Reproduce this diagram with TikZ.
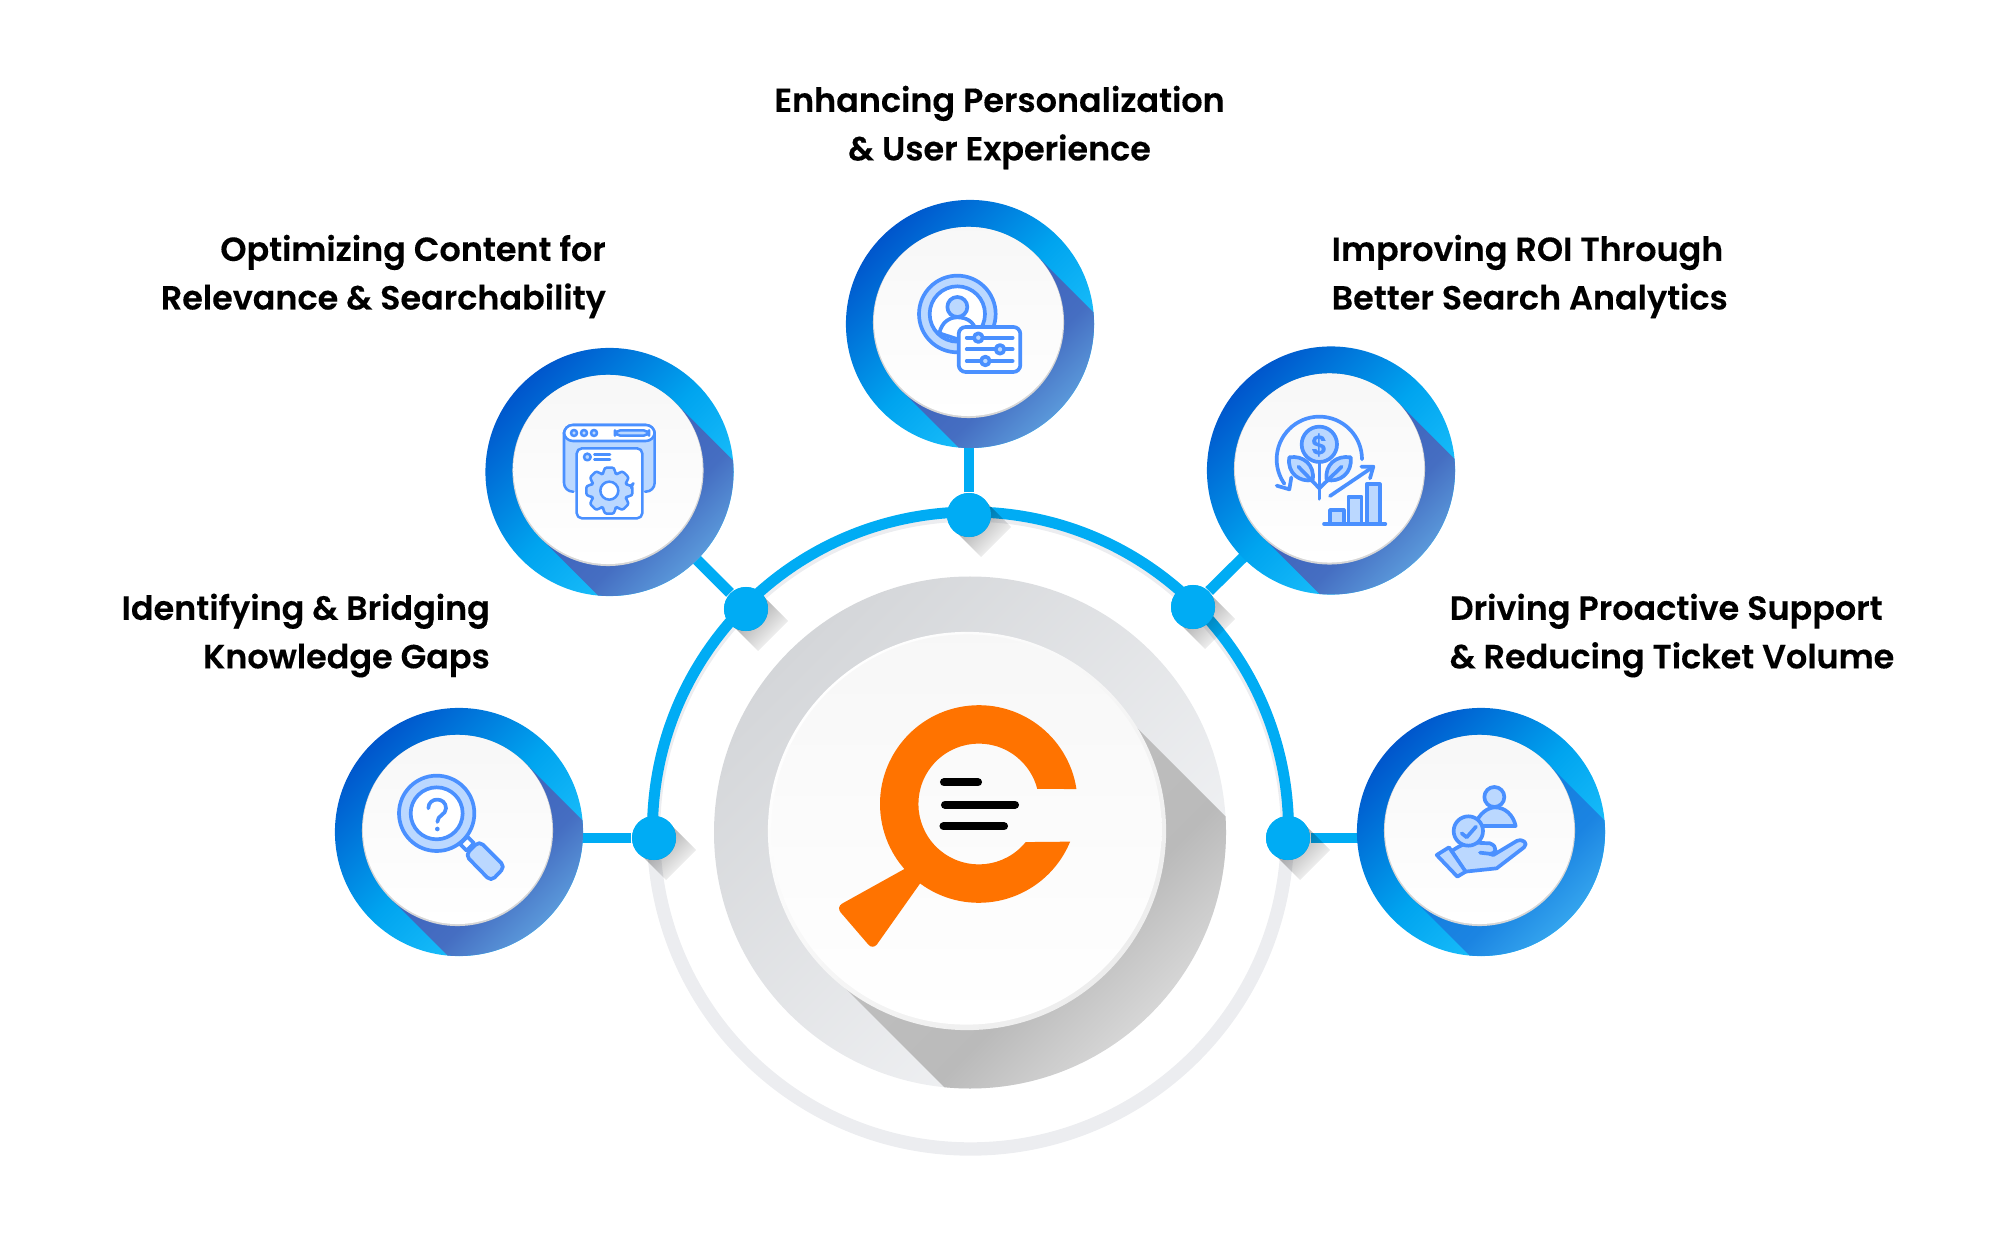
\documentclass[tikz,border=0pt]{standalone}
\usepackage{fontspec}
\usepackage{xcolor}
\usepackage{tikz}
\setmainfont{Poppins}[BoldFont=Poppins SemiBold, BoldFeatures={FakeBold=0.25}]

\definecolor{arcblue}{HTML}{00ACF4}
\definecolor{ringgray}{HTML}{ECEDF0}
\definecolor{platedark}{HTML}{D4D6D9}
\definecolor{platelight}{HTML}{F4F5F7}
\definecolor{ringdark}{HTML}{0056CC}
\definecolor{ringmid}{HTML}{00A4EF}
\definecolor{ringlight}{HTML}{24C8FF}
\definecolor{shadeA}{HTML}{3B5CB8}
\definecolor{shadeM}{HTML}{456EC2}
\definecolor{shadeB}{HTML}{72C8F5}
\definecolor{shadeC}{HTML}{0F78DC}
\definecolor{shadeN}{HTML}{1B84E2}
\definecolor{shadeD}{HTML}{50C8FA}
\definecolor{iconline}{HTML}{4A90FF}
\definecolor{iconfill}{HTML}{BBD8FF}
\definecolor{logoorange}{HTML}{FF7300}

\tikzset{
  heading/.style={font=\bfseries\fontsize{9.5}{13.8}\selectfont, text=black, inner sep=0pt},
  link/.style={draw=arcblue, line width=3.1pt},
  hubdot/.style={circle, fill=arcblue, minimum size=0.44cm, inner sep=0pt},
  dotshade/.style={left color=black!42, right color=white, shading angle=45, blend mode=multiply},
  badgering/.style={circle, minimum size=2.48cm, inner sep=0pt, left color=ringdark, right color=ringlight, middle color=ringmid, shading angle=45},
  badgerim/.style={circle, fill=black!16, minimum size=1.91cm, inner sep=0pt},
  badgedisk/.style={circle, top color=black!3, bottom color=white, minimum size=1.89cm, inner sep=0pt},
  icon/.style={draw=iconline, line width=1.05pt, line join=round, line cap=round},
  iconl/.style={icon, fill=iconfill},
  iconw/.style={icon, fill=white}
}

\begin{document}
\begin{tikzpicture}[x=0.01cm, y=-0.01cm]
\useasboundingbox (0, 0) rectangle (2000, 1234);

% outer ring
\draw[draw=ringgray, line width=3.8pt] (970.5, 832) circle[radius=317];
\draw[link] (652.5, 838) -- (652.5, 830) arc[start angle=180, end angle=360, radius=318] -- (1288.5, 838);

% gray plate with its long shadow
\shade[left color=platedark, right color=platelight, shading angle=45] (970, 832.5) circle[radius=256];
\begin{scope}
\clip (970, 832.5) circle[radius=256];
\shade[left color=black!24, right color=white, middle color=black!27, shading angle=45]
  (1106, 697) -- (1326, 917) -- (1049, 1192) -- (829, 972) -- cycle;
\end{scope}

% hub
\node[circle, minimum size=3.98cm, inner sep=0pt, left color=white, right color=black!7, shading angle=45] (HubRim) at (967, 831) {};
\node[circle, minimum size=3.9cm, inner sep=0pt, top color=black!3, bottom color=white] (Hub) at (966.5, 829.5) {};

% dots
\foreach \Dname/\Dx/\Dy in {DotL/654/838, DotUL/746/609, DotT/969/515, DotUR/1193/607, DotR/1288/838}
  \node[hubdot] (\Dname) at (\Dx, \Dy) {};

% badges
\foreach \Bname/\Bx/\By in {BadgeL/459/832, BadgeUL/609.5/472, BadgeT/970/324, BadgeUR/1331/470.5, BadgeR/1481/832} {
  \coordinate (\Bname C) at (\Bx, \By);
}

% links
\draw[link] (DotL) -- (DotL -| BadgeLC);
\draw[link] (DotUL) -- (BadgeULC);
\draw[link] (DotT) -- (DotT |- BadgeTC);
\draw[link] (DotUR) -- (BadgeURC);
\draw[link] (DotR) -- (DotR -| BadgeRC);

% dot shadows, then dots again on top
\foreach \Dname/\Dx/\Dy in {DotL/654/838, DotUL/746/609, DotT/969/515, DotUR/1193/607, DotR/1288/838} {
  \shade[dotshade] (\Dx + 15, \Dy - 15) -- (\Dx + 42, \Dy + 12) -- (\Dx + 12, \Dy + 42) -- (\Dx - 15, \Dy + 15) -- cycle;
  \node[hubdot] at (\Dx, \Dy) {};
}

% badge discs
\foreach \Bname/\Bx/\By/\Sa/\Sm/\Sb in {BadgeL/459/832/shadeA/shadeM/shadeB, BadgeUL/609.5/472/shadeA/shadeM/shadeB, BadgeT/970/324/shadeA/shadeM/shadeB, BadgeUR/1331/470.5/shadeA/shadeM/shadeB, BadgeR/1481/832/shadeC/shadeN/shadeD} {
  \node[badgering] (\Bname) at (\Bx, \By) {};
  \begin{scope}
  \clip (\Bx, \By) circle[radius=124];
  \shade[left color=\Sa, right color=\Sb, middle color=\Sm, shading angle=45]
    (\Bx + 66, \By - 69) -- (\Bx + 166, \By + 31) -- (\Bx + 31, \By + 166) -- (\Bx - 69, \By + 66) -- cycle;
  \end{scope}
  \node[badgerim] at (\Bx - 1.5, \By - 1.5) {};
  \node[badgedisk] at (\Bx - 1.5, \By - 2.5) {};
}

% logo
\begin{scope}[shift={(978.8, 804)}]
\fill[logoorange] (-8.7:98.8) arc[start angle=-8.7, end angle=-337.6, radius=98.8]
  -- (-320.9:60.4) arc[start angle=-320.9, end angle=-14.5, radius=60.4] -- cycle;
\end{scope}
\fill[logoorange, rounded corners=2pt] (917, 862) -- (836, 907) -- (873, 950) -- (931, 868) -- cycle;
\draw[black, line width=2.3pt, line cap=round] (944, 782.3) -- (978, 782.3);
\draw[black, line width=2.3pt, line cap=round] (945, 804.7) -- (1015, 804.7);
\draw[black, line width=2.3pt, line cap=round] (943.5, 826.3) -- (1004, 826.3);

% icon: magnifier
\begin{scope}[shift={(320, 690)}, scale=1/3]
\draw[iconl] (350, 370) circle[radius=113];
\draw[iconw] (350, 370) circle[radius=78];
\draw[icon] (325, 355) .. controls (325, 320) and (378, 320) .. (378, 355) .. controls (378, 375) and (352, 375) .. (352, 396);
\fill[iconline] (352, 417) circle[radius=7];
\draw[iconw] (420, 462) -- (442, 440) -- (462, 460) -- (440, 482) -- cycle;
\draw[iconl, rounded corners=1.5pt] (478, 453) -- (555, 530) -- (513, 574) -- (436, 495) -- cycle;
\end{scope}

% icon: page with gear
\begin{scope}[shift={(480, 340)}, scale=1/3, icon/.append style={line width=0.72pt}]
\draw[iconl, rounded corners=2.5pt] (280, 455) -- (252, 455) -- (252, 255) -- (524, 255) -- (524, 455) -- (495, 455);
\draw[iconw, rounded corners=2.5pt] (252, 303) -- (252, 255) -- (524, 255) -- (524, 303) -- cycle;
\foreach \Hx in {282, 312, 342}
  \draw[iconl] (\Hx, 279) circle[radius=9];
\draw[iconl, rounded corners=1.5pt] (405, 271) rectangle (507, 287);
\draw[iconw, rounded corners=1.5pt] (290, 325) rectangle (487, 535);
\draw[iconl] (322, 351) circle[radius=10];
\draw[icon] (343, 344) -- (390, 344);
\draw[icon] (343, 358) -- (390, 358);
\begin{scope}[shift={(388, 452)}]
\draw[iconl, rounded corners=0.8pt] (-12:70) \foreach \Ga in {0, 45, ..., 315} { -- (\Ga - 13:71) -- (\Ga + 13:71) -- (\Ga + 17:55) -- (\Ga + 28:55) } -- cycle;
\draw[iconw] (0, 0) circle[radius=27];
\end{scope}
\end{scope}

% icon: profile with sliders
\begin{scope}[shift={(840, 190)}, scale=1/3]
\draw[iconl] (352, 372) circle[radius=115];
\draw[iconw] (352, 372) circle[radius=83];
\draw[iconw] (298, 430) .. controls (305, 395) and (330, 382) .. (352, 382) .. controls (380, 382) and (400, 395) .. (408, 420) -- (360, 450) -- cycle;
\draw[iconl] (352, 351) circle[radius=30];
\draw[iconw, rounded corners=2pt] (356, 411) rectangle (541, 546);
\draw[icon] (380, 443) -- (518, 443);
\draw[icon] (380, 478) -- (518, 478);
\draw[icon] (380, 513) -- (518, 513);
\draw[iconl] (415, 443) circle[radius=13];
\draw[iconl] (480, 478) circle[radius=13];
\draw[iconl] (436, 513) circle[radius=13];
\end{scope}

% icon: growth
\begin{scope}[shift={(1200, 340)}, scale=1/3]
\draw[icon] (486, 358) arc[start angle=0, end angle=-215, radius=128];
\draw[icon] (230, 437) -- (268, 448) -- (274, 412);
\draw[icon] (358, 365) -- (358, 476);
\draw[iconl] (358, 313) circle[radius=53];
\node[text=iconline, font=\bfseries\fontsize{7.5}{8}\selectfont, inner sep=0pt] (Coin) at (358, 315) {\$};
\draw[iconl] (338, 420) .. controls (300, 428) and (260, 400) .. (268, 352) .. controls (310, 345) and (345, 375) .. (338, 420) -- cycle;
\draw[iconl] (380, 420) .. controls (418, 428) and (458, 400) .. (452, 352) .. controls (408, 345) and (373, 375) .. (380, 420) -- cycle;
\draw[icon] (295, 380) -- (358, 445);
\draw[icon] (425, 380) -- (358, 445);
\draw[icon] (390, 468) -- (520, 380);
\draw[icon] (484, 380) -- (520, 380) -- (510, 415);
\draw[iconl] (390, 552) rectangle (431, 510);
\draw[iconl] (445, 552) rectangle (484, 470);
\draw[iconl] (500, 552) rectangle (539, 433);
\draw[icon] (372, 552) -- (556, 552);
\end{scope}

% icon: hand
\begin{scope}[shift={(1350, 700)}, scale=1/3]
\draw[iconl] (375, 378) .. controls (385, 340) and (415, 322) .. (435, 322) .. controls (465, 322) and (490, 345) .. (497, 378) -- cycle;
\draw[iconl] (433, 291) circle[radius=30];
\draw[iconl] (305, 453) .. controls (325, 440) and (350, 425) .. (375, 428) -- (420, 430) .. controls (445, 440) and (438, 462) .. (420, 462) -- (430, 465) -- (500, 423) .. controls (520, 415) and (535, 430) .. (522, 442) -- (440, 505) -- (345, 515) -- cycle;
\draw[icon] (390, 458) -- (425, 462);
\draw[iconl] (260, 465) -- (297, 442) -- (347, 515) -- (322, 530) -- cycle;
\draw[iconl] (355, 393) circle[radius=44];
\draw[icon] (335, 400) -- (350, 412) -- (378, 380);
\end{scope}

% headings
\node[heading, align=center] (TxtT) at (999.5, 127.5) {\textbf{Enhancing Personalization}\\\textbf{\& User Experience}};
\node[heading, align=right, anchor=east] (TxtUL) at (606.5, 276.5) {\textbf{Optimizing Content for}\\\textbf{Relevance \& Searchability}};
\node[heading, align=right, anchor=east] (TxtL) at (490.5, 635.5) {\textbf{Identifying \& Bridging}\\\textbf{Knowledge Gaps}};
\node[heading, align=left, anchor=west] (TxtUR) at (1331, 276.5) {\textbf{Improving ROI Through}\\\textbf{Better Search Analytics}};
\node[heading, align=left, anchor=west] (TxtR) at (1449, 635.5) {\textbf{Driving Proactive Support}\\\textbf{\& Reducing Ticket Volume}};
\end{tikzpicture}
\end{document}
